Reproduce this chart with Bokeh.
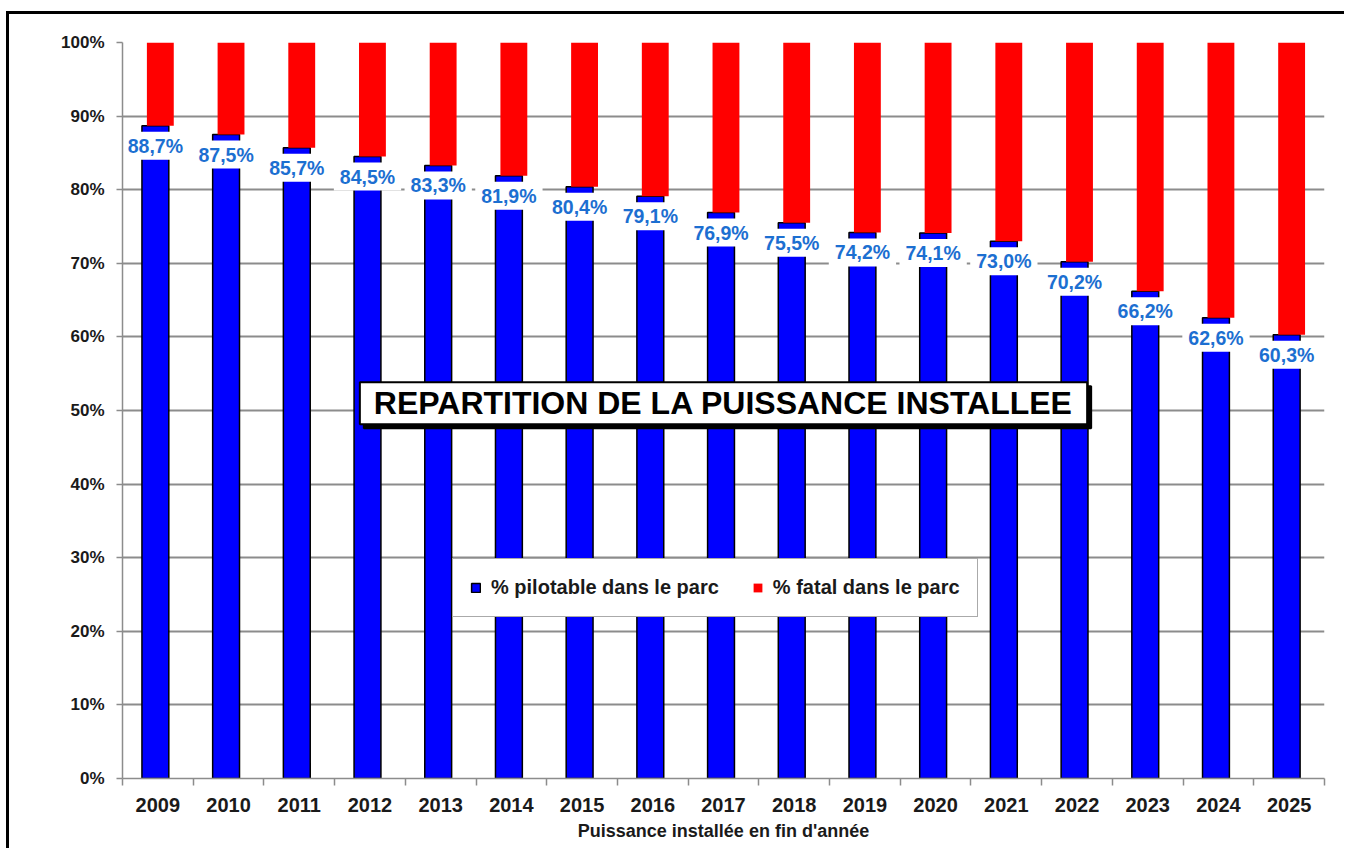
from bokeh.plotting import figure
from bokeh.models import (Range1d, FixedTicker, PrintfTickFormatter, Label, Legend,
                          LegendItem, ColumnDataSource)
from bokeh.transform import dodge, stack
from bokeh.embed import file_html
from bokeh.resources import INLINE
from bokeh.core.properties import value

years = [2009, 2010, 2011, 2012, 2013, 2014, 2015, 2016, 2017,
         2018, 2019, 2020, 2021, 2022, 2023, 2024, 2025]
pilotable = [88.7, 87.5, 85.7, 84.5, 83.3, 81.9, 80.4, 79.1, 76.9,
             75.5, 74.2, 74.1, 73.0, 70.2, 66.2, 62.6, 60.3]
fatal = [11.3, 12.5, 14.3, 15.5, 16.7, 18.1, 19.6, 20.9, 23.1,
         24.5, 25.8, 25.9, 27.0, 29.8, 33.8, 37.4, 39.7]
value_labels = [f"{v:.1f}".replace(".", ",") + "%" for v in pilotable]
y_ticks = [0, 10, 20, 30, 40, 50, 60, 70, 80, 90, 100]
series_names = ["% pilotable dans le parc", "% fatal dans le parc"]
title_text = "REPARTITION DE LA PUISSANCE INSTALLEE"
x_title = "Puissance installée en fin d'année"

FONT = "Liberation Sans"
BLUE = "#0000FF"
RED = "#FF0000"
LABEL_BLUE = "#1C6FD1"
GRID = "#8c8c8c"
DARK = "#1a1a1a"

src = ColumnDataSource(dict(year=years, pilot=pilotable, fatal=fatal, label=value_labels))

p = figure(frame_width=1202, frame_height=736,
           x_range=Range1d(years[0] - 0.5, years[-1] + 0.5),
           y_range=Range1d(0, 100),
           output_backend="svg", toolbar_location=None,
           min_border_left=113, min_border_top=28,
           min_border_right=20, min_border_bottom=70)
p.outline_line_color = None
p.background_fill_color = "white"
p.border_fill_color = "white"
p.styles = {"border-left": "3px solid black", "border-top": "3px solid black",
            "margin-left": "6px", "margin-top": "11px"}

blue = p.vbar(x=dodge("year", -0.035), bottom=0, top="pilot", width=0.38, source=src,
              fill_color=BLUE, line_color="black", line_width=1.5)
red = p.vbar(x=dodge("year", 0.035), bottom=stack("pilot"), top=stack("pilot", "fatal"),
             width=0.38, source=src, fill_color=RED, line_color=None)

p.text(x=dodge("year", -0.035), y="pilot", text="label", source=src,
       text_font=value(FONT), text_font_style="bold", text_font_size="19.5px",
       text_color=LABEL_BLUE, text_align="center", text_baseline="middle",
       y_offset=20, background_fill_color="white", padding=(6, 3))

# axes
xa = p.xaxis[0]
xa.ticker = FixedTicker(ticks=years, minor_ticks=[y - 0.5 for y in years] + [years[-1] + 0.5])
xa.major_tick_out = 0
xa.major_tick_in = 0
xa.minor_tick_out = 7
xa.minor_tick_in = 0
xa.minor_tick_line_color = GRID
xa.minor_tick_line_width = 1.5
xa.axis_line_color = GRID
xa.axis_line_width = 1.5
xa.major_label_text_font = FONT
xa.major_label_text_font_size = "20px"
xa.major_label_text_font_style = "bold"
xa.major_label_text_color = DARK
xa.major_label_standoff = 12
xa.axis_label = x_title
xa.axis_label_text_font = FONT
xa.axis_label_text_font_size = "18px"
xa.axis_label_text_font_style = "bold"
xa.axis_label_text_color = DARK
xa.axis_label_standoff = 6

ya = p.yaxis[0]
ya.ticker = FixedTicker(ticks=y_ticks)
ya.formatter = PrintfTickFormatter(format="%d%%")
ya.major_tick_out = 6
ya.major_tick_in = 0
ya.major_tick_line_color = GRID
ya.major_tick_line_width = 1.5
ya.minor_tick_line_color = None
ya.axis_line_color = GRID
ya.axis_line_width = 1.5
ya.major_label_text_font = FONT
ya.major_label_text_font_size = "17px"
ya.major_label_text_font_style = "bold"
ya.major_label_text_color = DARK
ya.major_label_standoff = 12

p.xgrid.visible = False
p.ygrid.ticker = FixedTicker(ticks=y_ticks)
p.ygrid.grid_line_color = GRID
p.ygrid.grid_line_width = 2

# title box with shadow
shadow = Label(x=2017, y=51, text=title_text, text_align="center", text_baseline="middle",
               text_font=FONT, text_font_size="32px", text_font_style="bold",
               text_color="black", background_fill_color="black",
               border_line_color="black", border_line_width=2,
               x_offset=4, y_offset=-4, padding=(14, 3))
title_lbl = Label(x=2017, y=51, text=title_text, text_align="center", text_baseline="middle",
                  text_font=FONT, text_font_size="32px", text_font_style="bold",
                  text_color="black", background_fill_color="white",
                  border_line_color="black", border_line_width=2, padding=(14, 3))
p.add_layout(shadow)
p.add_layout(title_lbl)

legend = Legend(items=[LegendItem(label=series_names[0], renderers=[blue]),
                       LegendItem(label=series_names[1], renderers=[red])],
                location=(330, 161), orientation="horizontal",
                padding=17, spacing=33, label_standoff=10,
                glyph_width=11, glyph_height=11,
                label_text_font=FONT, label_text_font_size="20px",
                label_text_font_style="bold", label_text_color=DARK,
                border_line_color="#555555", border_line_width=1,
                background_fill_color="white", background_fill_alpha=1.0)
p.add_layout(legend)

open("out.html", "w").write(file_html(p, INLINE))
